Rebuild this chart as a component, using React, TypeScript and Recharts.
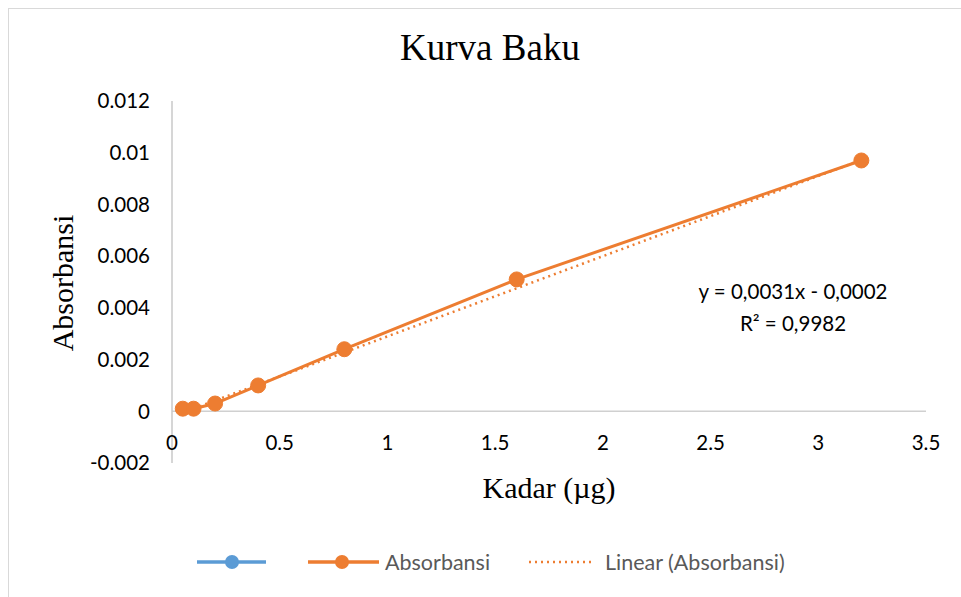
import { LineChart, Line, XAxis, YAxis, ReferenceLine } from "recharts";

const kadar = [0.05, 0.1, 0.2, 0.4, 0.8, 1.6, 3.2];
const absorbansi = [0.0001, 0.0001, 0.0003, 0.001, 0.0024, 0.0051, 0.0097];
const trendKadar = [0.05, 3.2];
const trendAbsorbansi = [-0.00005, 0.00972];
const xTicks = [0, 0.5, 1, 1.5, 2, 2.5, 3, 3.5];
const yTicks = [-0.002, 0, 0.002, 0.004, 0.006, 0.008, 0.01, 0.012];

const points = kadar.map((x, i) => ({ x, y: absorbansi[i] }));
const trend = trendKadar.map((x, i) => ({ x, y: trendAbsorbansi[i] }));

const ORANGE = "#ED7D31";
const BLUE = "#5B9BD5";
const SANS = "Lato, 'Open Sans', sans-serif";
const SERIF = "'Liberation Serif', 'DejaVu Serif', serif";

const XTick = (props: any) => (
  <text
    x={props.x}
    y={props.y - 20}
    dy="0.355em"
    textAnchor="middle"
    fontFamily={SANS}
    fontSize={20.5}
    fill="#000"
  >
    {props.payload.value}
  </text>
);

export default function App() {
  return (
    <div
      style={{
        position: "absolute",
        left: 0,
        top: 0,
        width: 961,
        height: 597,
        overflow: "hidden",
        background: "#fff",
      }}
    >
      <div
        style={{
          position: "absolute",
          left: 8,
          top: 8,
          width: 1000,
          height: 700,
          borderLeft: "1.5px solid #d9d9d9",
          borderTop: "1.5px solid #d9d9d9",
        }}
      />
      <div style={{ position: "absolute", left: 0, top: 0 }}>
        <LineChart
          width={961}
          height={597}
          margin={{ top: 101, right: 35, left: 92, bottom: 104 }}
        >
          <XAxis
            type="number"
            dataKey="x"
            domain={[0, 3.5]}
            ticks={xTicks}
            axisLine={false}
            tickLine={false}
            tickSize={0}
            tickMargin={0}
            height={30}
            tick={<XTick />}
            allowDuplicatedCategory={false}
          />
          <YAxis
            type="number"
            domain={[-0.002, 0.012]}
            ticks={yTicks}
            width={80}
            axisLine={{ stroke: "#c8c8c8", strokeWidth: 1.5 }}
            tickLine={false}
            tickSize={0}
            tickMargin={22}
            tick={{ fontFamily: SANS, fontSize: 20.5, fill: "#000" }}
          />
          <ReferenceLine y={0} stroke="#d0d0d0" strokeWidth={1.5} />
          <Line
            data={points}
            dataKey="y"
            stroke={ORANGE}
            strokeWidth={3}
            dot={{ r: 7.5, fill: ORANGE, stroke: ORANGE, strokeWidth: 1 }}
            isAnimationActive={false}
          />
          <Line
            data={trend}
            dataKey="y"
            stroke={ORANGE}
            strokeWidth={2.5}
            strokeDasharray="2 4"
            dot={false}
            isAnimationActive={false}
          />
        </LineChart>
      </div>

      <div
        style={{
          position: "absolute",
          left: 0,
          width: 980,
          top: 26,
          textAlign: "center",
          fontFamily: SERIF,
          fontSize: 37,
          lineHeight: "44px",
          color: "#000",
        }}
      >
        Kurva Baku
      </div>

      <div
        style={{
          position: "absolute",
          left: 449,
          width: 200,
          top: 470,
          textAlign: "center",
          fontFamily: SERIF,
          fontSize: 30,
          lineHeight: "36px",
          color: "#000",
        }}
      >
        Kadar (µg)
      </div>

      <div
        style={{
          position: "absolute",
          left: 63 - 100,
          top: 283 - 18,
          width: 200,
          textAlign: "center",
          fontFamily: SERIF,
          fontSize: 30,
          lineHeight: "36px",
          color: "#000",
          transform: "rotate(-90deg)",
        }}
      >
        Absorbansi
      </div>

      <div
        style={{
          position: "absolute",
          left: 693,
          width: 200,
          top: 275,
          textAlign: "center",
          fontFamily: SANS,
          fontSize: 20.5,
          lineHeight: "32px",
          color: "#000",
        }}
      >
        y = 0,0031x - 0,0002
        <br />
        R² = 0,9982
      </div>

      <div
        style={{
          position: "absolute",
          top: 548,
          left: 0,
          height: 28,
          width: 961,
          fontFamily: SANS,
          fontSize: 21.5,
          color: "#595959",
        }}
      >
        <svg
          width={961}
          height={28}
          style={{ position: "absolute", left: 0, top: 0 }}
        >
          <line x1={197} x2={266} y1={14} y2={14} stroke={BLUE} strokeWidth={3.5} />
          <circle cx={232} cy={14} r={7} fill={BLUE} />
          <line x1={308} x2={379} y1={14} y2={14} stroke={ORANGE} strokeWidth={3.5} />
          <circle cx={342} cy={14} r={7} fill={ORANGE} />
          <line
            x1={529}
            x2={595}
            y1={14}
            y2={14}
            stroke={ORANGE}
            strokeWidth={2.5}
            strokeDasharray="2 4"
          />
        </svg>
        <span style={{ position: "absolute", left: 385, top: 0, lineHeight: "28px" }}>
          Absorbansi
        </span>
        <span style={{ position: "absolute", left: 605, top: 0, lineHeight: "28px" }}>
          Linear (Absorbansi)
        </span>
      </div>
    </div>
  );
}
